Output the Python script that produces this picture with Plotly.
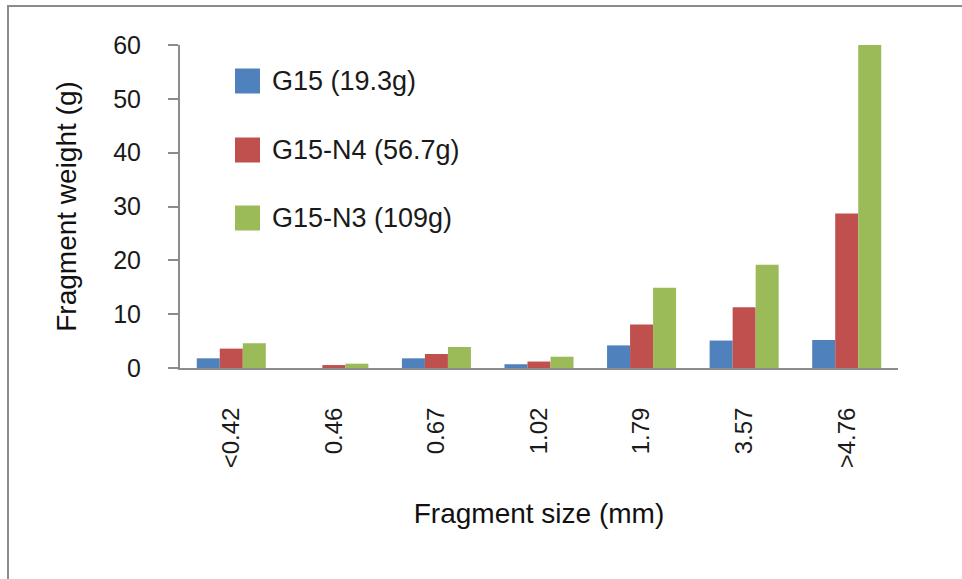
import plotly.graph_objects as go

# Fragment size classes (mm) and fragment weights (g) per sample
sizes = ["<0.42", "0.46", "0.67", "1.02", "1.79", "3.57", ">4.76"]
g15 = [1.8, 0.0, 1.8, 0.7, 4.2, 5.1, 5.2]
g15_n4 = [3.6, 0.55, 2.6, 1.2, 8.1, 11.3, 28.7]
g15_n3 = [4.6, 0.8, 3.9, 2.1, 14.9, 19.2, 60.0]

series_names = ["G15 (19.3g)", "G15-N4 (56.7g)", "G15-N3 (109g)"]
series_values = [g15, g15_n4, g15_n3]
series_colors = ["#4F81BD", "#C0504D", "#9BBB59"]

W, H = 962, 579
L, R, T, B = 180, 64, 45, 211
PW, PH = W - L - R, H - T - B


def px_x(px):
    return (px - L) / PW


def px_y(py):
    return (H - B - py) / PH


FONT = "Liberation Sans, Arial, sans-serif"

fig = go.Figure()
for name, vals, col in zip(series_names, series_values, series_colors):
    fig.add_trace(go.Bar(x=sizes, y=vals, name=name, marker_color=col,
                         marker_line_width=0, showlegend=False))

shapes = []
annotations = []

# Outer chart frame
shapes.append(dict(type="rect", xref="paper", yref="paper",
                   x0=px_x(8), x1=px_x(970), y0=px_y(6), y1=px_y(590),
                   line=dict(color="#8C8C8C", width=2), layer="below"))

# Legend drawn as colour swatches with labels
legend_rows = [81, 150, 218]
for name, col, cy in zip(series_names, series_colors, legend_rows):
    shapes.append(dict(type="rect", xref="paper", yref="paper",
                       x0=px_x(235), x1=px_x(260),
                       y0=px_y(cy + 12.5), y1=px_y(cy - 12.5),
                       fillcolor=col, line_width=0))
    annotations.append(dict(xref="paper", yref="paper",
                            x=px_x(270), y=px_y(cy),
                            xanchor="left", yanchor="middle",
                            text=name, showarrow=False,
                            font=dict(family=FONT, size=27, color="#1a1a1a")))

fig.update_layout(
    width=W, height=H,
    margin=dict(l=L, r=R, t=T, b=B, pad=0),
    paper_bgcolor="white", plot_bgcolor="white",
    barmode="group", bargap=0.327, bargroupgap=0,
    font=dict(family=FONT, color="#1a1a1a"),
    shapes=shapes, annotations=annotations,
    xaxis=dict(
        showline=True, linecolor="#8C8C8C", linewidth=2,
        ticks="", tickangle=-90, ticklabelstandoff=28,
        tickfont=dict(family=FONT, size=24, color="#1a1a1a"),
        title=dict(text="Fragment size (mm)", standoff=36,
                   font=dict(family=FONT, size=28, color="#111")),
        showgrid=False, zeroline=False,
    ),
    yaxis=dict(
        range=[0, 60], tickvals=[0, 10, 20, 30, 40, 50, 60],
        showline=True, linecolor="#8C8C8C", linewidth=2,
        ticks="outside", ticklen=10, tickcolor="#8C8C8C", tickwidth=2,
        ticklabelstandoff=22,
        tickfont=dict(family=FONT, size=25, color="#1a1a1a"),
        title=dict(text="Fragment weight (g)", standoff=28,
                   font=dict(family=FONT, size=28, color="#111")),
        showgrid=False, zeroline=False,
    ),
)

fig.write_html("out.html")
